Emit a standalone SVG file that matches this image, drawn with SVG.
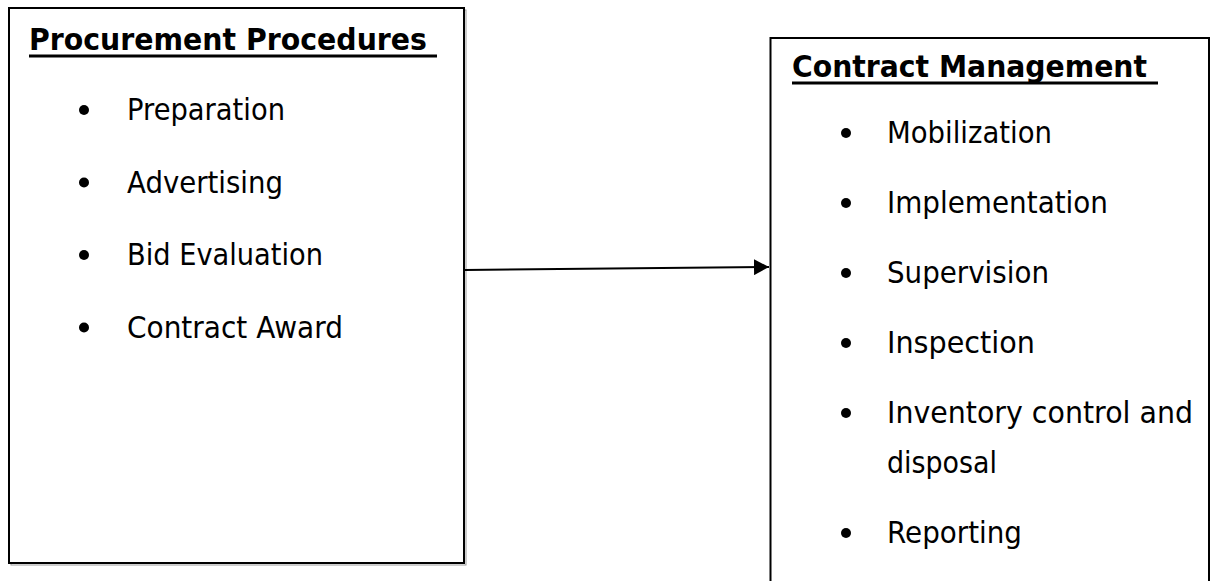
<svg xmlns="http://www.w3.org/2000/svg" width="1223" height="581" viewBox="0 0 1223 581">
<style>
.box{fill:#fff;stroke:#000;stroke-width:2}
.shadow{fill:none;stroke:#9a9a9a;stroke-width:1}
.title{font-family:"DejaVu Sans","Liberation Sans",sans-serif;font-weight:bold;font-size:31px;fill:#000}
.item{font-family:"DejaVu Sans","Liberation Sans",sans-serif;font-size:31px;fill:#000}
.ul{stroke:#000;stroke-width:3}
.bullet{fill:#000}
.conn{stroke:#000;stroke-width:2;fill:none}
</style>
<defs>
<marker id="arrow" markerWidth="8" markerHeight="8" refX="7.5" refY="4" orient="auto" markerUnits="strokeWidth">
<path d="M0,0 L7.5,4 L0,8 Z" fill="#000"/>
</marker>
</defs>
<rect width="1223" height="581" fill="#fff"/>
<g id="procurement">
<rect class="shadow" x="11" y="10" width="455" height="555"/>
<rect class="box" x="9" y="8" width="455" height="555"/>
<text class="title" x="29" y="50" textLength="398" lengthAdjust="spacingAndGlyphs">Procurement Procedures</text>
<line class="ul" x1="29" y1="56" x2="437" y2="56"/>
<circle class="bullet" cx="84" cy="110" r="5"/>
<text class="item" x="127" y="120" textLength="158" lengthAdjust="spacingAndGlyphs">Preparation</text>
<circle class="bullet" cx="84" cy="182.5" r="5"/>
<text class="item" x="127" y="192.5" textLength="156" lengthAdjust="spacingAndGlyphs">Advertising</text>
<circle class="bullet" cx="84" cy="255" r="5"/>
<text class="item" x="127" y="265" textLength="196" lengthAdjust="spacingAndGlyphs">Bid Evaluation</text>
<circle class="bullet" cx="84" cy="327.5" r="5"/>
<text class="item" x="127" y="337.5" textLength="216" lengthAdjust="spacingAndGlyphs">Contract Award</text>
</g>
<g id="contract-management">
<rect class="box" x="770.5" y="38" width="438.5" height="560"/>
<text class="title" x="792" y="77" textLength="355" lengthAdjust="spacingAndGlyphs">Contract Management</text>
<line class="ul" x1="792" y1="83" x2="1158" y2="83"/>
<circle class="bullet" cx="846" cy="133" r="5"/>
<text class="item" x="887" y="143" textLength="165" lengthAdjust="spacingAndGlyphs">Mobilization</text>
<circle class="bullet" cx="846" cy="203" r="5"/>
<text class="item" x="887" y="213" textLength="221" lengthAdjust="spacingAndGlyphs">Implementation</text>
<circle class="bullet" cx="846" cy="273" r="5"/>
<text class="item" x="887" y="283" textLength="162" lengthAdjust="spacingAndGlyphs">Supervision</text>
<circle class="bullet" cx="846" cy="343" r="5"/>
<text class="item" x="887" y="353" textLength="148" lengthAdjust="spacingAndGlyphs">Inspection</text>
<circle class="bullet" cx="846" cy="413" r="5"/>
<text class="item" x="887" y="423" textLength="306" lengthAdjust="spacingAndGlyphs">Inventory control and</text>
<text class="item" x="887" y="473" textLength="110" lengthAdjust="spacingAndGlyphs">disposal</text>
<circle class="bullet" cx="846" cy="533" r="5"/>
<text class="item" x="887" y="543" textLength="135" lengthAdjust="spacingAndGlyphs">Reporting</text>
</g>
<g id="connectors">
<line class="conn" x1="465" y1="270" x2="769" y2="267" marker-end="url(#arrow)"/>
</g>
</svg>
